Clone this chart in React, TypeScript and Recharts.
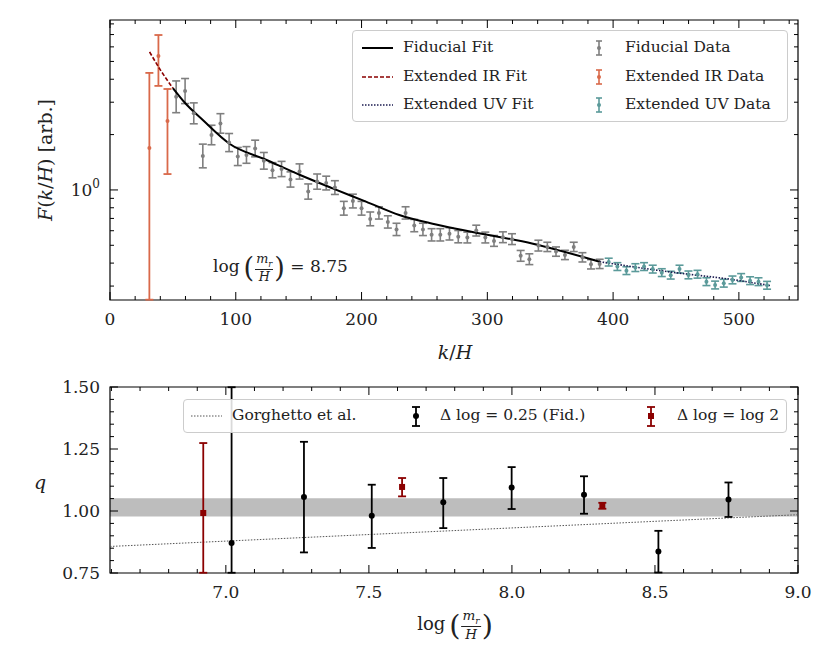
import React from 'react';
import { ComposedChart, Scatter, Line, XAxis, YAxis, ErrorBar, ReferenceArea } from 'recharts';

// ---------- Top panel data ----------
const irX = [31.3, 38.5, 45.7];
const irY = [1.69, 5.35, 2.37];
const irLo = [0.253, 3.68, 1.22];
const irHi = [4.33, 6.96, 3.54];

const fidX = [52.6, 59.7, 66.6, 73.8, 80.7, 87.8, 94.7, 101.6, 108.5, 115.4, 122.3, 129.2, 136.4, 143.5, 150.7, 157.6, 164.7, 171.9, 178.8, 185.9, 193.1, 200, 206.9, 213.8, 220.9, 227.8, 235, 241.9, 248.8, 255.7, 262.6, 269.9, 276.9, 284.1, 291.2, 298.4, 305.3, 312.4, 319.6, 326.5, 333.4, 340.6, 347.7, 354.6, 361.7, 368.7, 375.6, 382.4, 389.3];
const fidY = [3.21, 3.45, 2.61, 1.53, 1.99, 2.3, 1.81, 1.52, 1.55, 1.68, 1.44, 1.28, 1.3, 1.14, 1.26, 0.98, 1.11, 1.09, 1.03, 0.795, 0.87, 0.795, 0.696, 0.75, 0.67, 0.61, 0.75, 0.64, 0.61, 0.57, 0.57, 0.577, 0.557, 0.551, 0.601, 0.551, 0.528, 0.553, 0.54, 0.438, 0.42, 0.498, 0.49, 0.462, 0.443, 0.49, 0.43, 0.394, 0.396];
const fidErr = [1.22, 1.17, 1.14, 1.16, 1.13, 1.13, 1.12, 1.12, 1.11, 1.11, 1.11, 1.1, 1.1, 1.1, 1.1, 1.1, 1.1, 1.09, 1.09, 1.09, 1.09, 1.09, 1.09, 1.08, 1.08, 1.08, 1.08, 1.08, 1.08, 1.08, 1.08, 1.08, 1.08, 1.07, 1.07, 1.07, 1.07, 1.07, 1.07, 1.07, 1.07, 1.07, 1.06, 1.06, 1.06, 1.06, 1.06, 1.06, 1.06];

const uvX = [396.5, 403.4, 410.6, 417.7, 424.6, 431.5, 438.7, 445.8, 452.8, 459.9, 467.1, 474.2, 481.1, 488, 494.9, 501.8, 508.9, 515.6, 522.4];
const uvY = [0.405, 0.383, 0.364, 0.378, 0.383, 0.371, 0.355, 0.344, 0.371, 0.345, 0.348, 0.317, 0.304, 0.311, 0.324, 0.334, 0.321, 0.317, 0.303];
const uvErr = [1.05, 1.05, 1.05, 1.05, 1.05, 1.05, 1.05, 1.05, 1.05, 1.05, 1.05, 1.05, 1.05, 1.05, 1.05, 1.05, 1.05, 1.05, 1.05];

const fitFidX = [50, 59.7, 73.8, 94.7, 124, 150.7, 177, 203.5, 230, 256.5, 283.3, 336.3, 389.3];
const fitFidY = [3.58, 2.97, 2.4, 1.79, 1.46, 1.21, 1.02, 0.864, 0.73, 0.655, 0.6, 0.51, 0.407];
const fitIrX = [31.5, 40, 50];
const fitIrY = [5.63, 4.5, 3.58];
const fitUvX = [389.3, 442.4, 495.5, 524.7];
const fitUvY = [0.407, 0.36, 0.325, 0.302];

const topXMajor = [0, 100, 200, 300, 400, 500];
const topXMinor = [20, 40, 60, 80, 120, 140, 160, 180, 220, 240, 260, 280, 320, 340, 360, 380, 420, 440, 460, 480, 520, 540];
const topYMajor = [1];
const topYMinor = [0.3, 0.4, 0.5, 0.6, 0.7, 0.8, 0.9, 2, 3, 4, 5, 6, 7, 8];

// ---------- Bottom panel data ----------
const qFidX = [7.02, 7.273, 7.51, 7.76, 7.999, 8.252, 8.512, 8.757];
const qFidY = [0.871, 1.056, 0.981, 1.035, 1.095, 1.066, 0.837, 1.046];
const qFidLo = [0.751, 0.833, 0.851, 0.931, 1.008, 0.989, 0.752, 0.976];
const qFidHi = [1.499, 1.279, 1.106, 1.133, 1.177, 1.14, 0.92, 1.115];
const qL2X = [6.921, 7.616, 8.316];
const qL2Y = [0.992, 1.097, 1.021];
const qL2Lo = [0.751, 1.059, 1.009];
const qL2Hi = [1.274, 1.133, 1.033];
const gorX = [6.595, 9.0];
const gorY = [0.857, 0.985];
const band = [0.978, 1.051];
const botXMajor = [7.0, 7.5, 8.0, 8.5, 9.0];
const botXMinor = [6.6, 6.7, 6.8, 6.9, 7.1, 7.2, 7.3, 7.4, 7.6, 7.7, 7.8, 7.9, 8.1, 8.2, 8.3, 8.4, 8.6, 8.7, 8.8, 8.9];
const botYMajor = [0.75, 1.0, 1.25, 1.5];
const botYMinor = [0.8, 0.85, 0.9, 0.95, 1.05, 1.1, 1.15, 1.2, 1.3, 1.35, 1.4, 1.45];

const FONT = '"DejaVu Serif", "Liberation Serif", serif';
const GREY = '#7f7f7f';
const IRC = '#d9694a';
const UVC = '#5b9a9a';
const DRED = '#8b0000';
const NAVY = '#1b1b50';

const pts = (xs: number[], ys: number[]) => xs.map((x, i) => ({ x, y: ys[i] }));
const errPts = (xs: number[], ys: number[], f: number[]) =>
  xs.map((x, i) => ({ x, y: ys[i], e: [ys[i] - ys[i] / f[i], ys[i] * f[i] - ys[i]] }));
const loHiPts = (xs: number[], ys: number[], lo: number[], hi: number[]) =>
  xs.map((x, i) => ({ x, y: ys[i], e: [ys[i] - lo[i], hi[i] - ys[i]] }));

type TickOpts = { horiz: boolean; e1: number; e2: number; majors: number[]; fmt?: (v: number) => any };
const makeTick = (o: TickOpts) => (props: any) => {
  const v = props.payload.value;
  const major = o.majors.some((m) => Math.abs(m - v) < 1e-6);
  const len = major ? 8 : 4;
  if (o.horiz) {
    const c = props.x;
    return (
      <g>
        <line x1={c} x2={c} y1={o.e1} y2={o.e1 - len} stroke="#000" />
        <line x1={c} x2={c} y1={o.e2} y2={o.e2 + len} stroke="#000" />
        {major && <text x={c} y={o.e1 + 25} textAnchor="middle" fontSize={17} fontFamily={FONT} fill="#222">{o.fmt ? o.fmt(v) : v}</text>}
      </g>
    );
  }
  const c = props.y;
  return (
    <g>
      <line y1={c} y2={c} x1={o.e1} x2={o.e1 + len} stroke="#000" />
      <line y1={c} y2={c} x1={o.e2} x2={o.e2 - len} stroke="#000" />
      {major && <text x={o.e1 - 10} y={c + 6} textAnchor="end" fontSize={17} fontFamily={FONT} fill="#222">{o.fmt ? o.fmt(v) : v}</text>}
    </g>
  );
};

const dot = (color: string, r: number, square = false) => (p: any) =>
  square ? <rect x={p.cx - r} y={p.cy - r} width={2 * r} height={2 * r} fill={color} /> : <circle cx={p.cx} cy={p.cy} r={r} fill={color} />;

const Frac = ({ a, b, size = 13 }: { a: any; b: any; size?: number }) => (
  <span style={{ display: 'inline-flex', flexDirection: 'column', alignItems: 'center', verticalAlign: 'middle', fontSize: size, lineHeight: 1.05, margin: '0 1px' }}>
    <span style={{ borderBottom: '1px solid #222', padding: '0 1px' }}>{a}</span>
    <span>{b}</span>
  </span>
);
const LogMr = ({ size }: { size: number }) => (
  <span style={{ whiteSpace: 'nowrap' }}>
    log<span style={{ fontSize: size * 1.6, verticalAlign: 'middle', margin: '0 0 0 4px', fontWeight: 200 }}>(</span>
    <Frac a={<i>m<sub style={{ fontSize: size * 0.5 }}>r</sub></i>} b={<i>H</i>} size={size * 0.75} />
    <span style={{ fontSize: size * 1.6, verticalAlign: 'middle', fontWeight: 200 }}>)</span>
  </span>
);

const T_TOP = 20, T_BOT = 300, LEFT = 110, RIGHT = 798;
const B_TOP = 387, B_BOT = 573;

export default function App() {
  const xdom: [number, number] = [0, 547];
  const ydom: [number, number] = [0.252, 8.4];
  const allTopX = [...topXMajor, ...topXMinor].sort((a, b) => a - b);
  const allTopY = [...topYMinor, ...topYMajor].sort((a, b) => a - b);
  const allBotX = [...botXMajor, ...botXMinor].sort((a, b) => a - b);
  const allBotY = [...botYMajor, ...botYMinor].sort((a, b) => a - b);
  const legText: React.CSSProperties = { position: 'absolute', fontSize: 15.5, whiteSpace: 'nowrap', color: '#222' };

  return (
    <div style={{ position: 'fixed', left: 0, top: 0, width: 835, height: 658, background: '#fff', fontFamily: FONT, color: '#222' }}>
      <div style={{ position: 'absolute', left: 0, top: 0 }}>
        <ComposedChart width={835} height={370} margin={{ top: T_TOP, right: 835 - RIGHT, bottom: 30, left: 0 }}>
          <XAxis xAxisId="b" type="number" dataKey="x" domain={xdom} allowDataOverflow ticks={allTopX} interval={0} height={40} axisLine={false} tickLine={false}
            tick={makeTick({ horiz: true, e1: T_BOT, e2: T_TOP, majors: topXMajor })} />
          <YAxis yAxisId="l" type="number" scale="log" dataKey="y" domain={ydom} allowDataOverflow ticks={allTopY} interval={0} width={LEFT} axisLine={false} tickLine={false}
            tick={makeTick({ horiz: false, e1: LEFT, e2: RIGHT, majors: topYMajor, fmt: () => <>10<tspan dy={-8} fontSize={12}>0</tspan></> })} />
          <ReferenceArea xAxisId="b" yAxisId="l" x1={0} x2={547} y1={0.252} y2={8.4} fill="none" stroke="#000" strokeWidth={1.2} ifOverflow="visible" />
          <Scatter xAxisId="b" yAxisId="l" data={loHiPts(irX, irY, irLo, irHi)} shape={dot(IRC, 2)} isAnimationActive={false}>
            <ErrorBar dataKey="e" direction="y" stroke={IRC} strokeWidth={1.8} width={4} isAnimationActive={false} />
          </Scatter>
          <Scatter xAxisId="b" yAxisId="l" data={errPts(fidX, fidY, fidErr)} shape={dot(GREY, 2)} isAnimationActive={false}>
            <ErrorBar dataKey="e" direction="y" stroke={GREY} strokeWidth={1.6} width={4} isAnimationActive={false} />
          </Scatter>
          <Scatter xAxisId="b" yAxisId="l" data={errPts(uvX, uvY, uvErr)} shape={dot(UVC, 2)} isAnimationActive={false}>
            <ErrorBar dataKey="e" direction="y" stroke={UVC} strokeWidth={1.6} width={4} isAnimationActive={false} />
          </Scatter>
          <Line xAxisId="b" yAxisId="l" data={pts(fitFidX, fitFidY)} dataKey="y" type="monotone" stroke="#000" strokeWidth={2} dot={false} isAnimationActive={false} />
          <Line xAxisId="b" yAxisId="l" data={pts(fitIrX, fitIrY)} dataKey="y" type="monotone" stroke={DRED} strokeWidth={1.6} strokeDasharray="4 2" dot={false} isAnimationActive={false} />
          <Line xAxisId="b" yAxisId="l" data={pts(fitUvX, fitUvY)} dataKey="y" type="monotone" stroke={NAVY} strokeWidth={1.6} strokeDasharray="1.5 1.5" dot={false} isAnimationActive={false} />
        </ComposedChart>
      </div>

      <div style={{ position: 'absolute', left: 0, top: 360 }}>
        <ComposedChart width={835} height={300} margin={{ top: B_TOP - 360, right: 835 - RIGHT, bottom: 300 - (B_BOT - 360) - 40, left: 0 }}>
          <XAxis xAxisId="b" type="number" dataKey="x" domain={[6.595, 9.0]} allowDataOverflow ticks={allBotX} interval={0} height={40} axisLine={false} tickLine={false}
            tick={makeTick({ horiz: true, e1: B_BOT - 360, e2: B_TOP - 360, majors: botXMajor, fmt: (v) => v.toFixed(1) })} />
          <YAxis yAxisId="l" type="number" dataKey="y" domain={[0.75, 1.5]} allowDataOverflow ticks={allBotY} interval={0} width={LEFT} axisLine={false} tickLine={false}
            tick={makeTick({ horiz: false, e1: LEFT, e2: RIGHT, majors: botYMajor, fmt: (v) => v.toFixed(2) })} />
          <ReferenceArea xAxisId="b" yAxisId="l" x1={6.595} x2={9.0} y1={band[0]} y2={band[1]} fill="#bdbdbd" fillOpacity={1} stroke="none" />
          <Line xAxisId="b" yAxisId="l" data={pts(gorX, gorY)} dataKey="y" type="linear" stroke="#555" strokeWidth={1} strokeDasharray="1.5 1.5" dot={false} isAnimationActive={false} />
          <Scatter xAxisId="b" yAxisId="l" data={loHiPts(qL2X, qL2Y, qL2Lo, qL2Hi)} shape={dot(DRED, 3, true)} isAnimationActive={false}>
            <ErrorBar dataKey="e" direction="y" stroke={DRED} strokeWidth={1.8} width={4} isAnimationActive={false} />
          </Scatter>
          <Scatter xAxisId="b" yAxisId="l" data={loHiPts(qFidX, qFidY, qFidLo, qFidHi)} shape={dot('#000', 3)} isAnimationActive={false}>
            <ErrorBar dataKey="e" direction="y" stroke="#000" strokeWidth={1.8} width={4} isAnimationActive={false} />
          </Scatter>
          <ReferenceArea xAxisId="b" yAxisId="l" x1={6.595} x2={9.0} y1={0.75} y2={1.5} fill="none" stroke="#000" strokeWidth={1.2} ifOverflow="visible" />
        </ComposedChart>
      </div>

      {/* top legend */}
      <div style={{ position: 'absolute', left: 352, top: 30, width: 436, height: 92, background: 'rgba(255,255,255,0.85)', border: '1px solid #ccc', borderRadius: 4, boxSizing: 'border-box' }}>
        <svg style={{ position: 'absolute', left: 0, top: 0 }} width={436} height={92}>
          <line x1={9} x2={40} y1={17} y2={17} stroke="#000" strokeWidth={2} />
          <line x1={9} x2={40} y1={46} y2={46} stroke={DRED} strokeWidth={1.6} strokeDasharray="4 2" />
          <line x1={9} x2={40} y1={74} y2={74} stroke={NAVY} strokeWidth={1.6} strokeDasharray="1.5 1.5" />
          {[[17, GREY], [46, IRC], [74, UVC]].map(([yy, c]: any) => (
            <g key={yy}>
              <line x1={246} x2={246} y1={yy - 7} y2={yy + 7} stroke={c} strokeWidth={1.6} />
              <line x1={243} x2={249} y1={yy - 7} y2={yy - 7} stroke={c} strokeWidth={1.6} />
              <line x1={243} x2={249} y1={yy + 7} y2={yy + 7} stroke={c} strokeWidth={1.6} />
              <circle cx={246} cy={yy} r={2} fill={c} />
            </g>
          ))}
        </svg>
        <div style={{ ...legText, left: 50, top: 7 }}>Fiducial Fit</div>
        <div style={{ ...legText, left: 50, top: 36 }}>Extended IR Fit</div>
        <div style={{ ...legText, left: 50, top: 64 }}>Extended UV Fit</div>
        <div style={{ ...legText, left: 272, top: 7 }}>Fiducial Data</div>
        <div style={{ ...legText, left: 272, top: 36 }}>Extended IR Data</div>
        <div style={{ ...legText, left: 272, top: 64 }}>Extended UV Data</div>
      </div>

      {/* bottom legend */}
      <div style={{ position: 'absolute', left: 183, top: 399, width: 604, height: 34, background: 'rgba(255,255,255,0.85)', border: '1px solid #ccc', borderRadius: 4, boxSizing: 'border-box' }}>
        <svg style={{ position: 'absolute', left: 0, top: 0 }} width={604} height={34}>
          <line x1={7} x2={38} y1={16} y2={16} stroke="#555" strokeWidth={1} strokeDasharray="1.5 1.5" />
          <line x1={232} x2={232} y1={7} y2={26} stroke="#000" strokeWidth={1.8} />
          <line x1={228} x2={236} y1={7} y2={7} stroke="#000" strokeWidth={1.8} />
          <line x1={228} x2={236} y1={26} y2={26} stroke="#000" strokeWidth={1.8} />
          <circle cx={232} cy={16} r={3} fill="#000" />
          <line x1={467} x2={467} y1={7} y2={26} stroke={DRED} strokeWidth={1.8} />
          <line x1={463} x2={471} y1={7} y2={7} stroke={DRED} strokeWidth={1.8} />
          <line x1={463} x2={471} y1={26} y2={26} stroke={DRED} strokeWidth={1.8} />
          <rect x={464} y={13} width={6} height={6} fill={DRED} />
        </svg>
        <div style={{ ...legText, left: 48, top: 6 }}>Gorghetto et al.</div>
        <div style={{ ...legText, left: 256, top: 6 }}>Δ log = 0.25 (Fid.)</div>
        <div style={{ ...legText, left: 493, top: 6 }}>Δ log = log 2</div>
      </div>

      {/* annotation */}
      <div style={{ position: 'absolute', left: 213, top: 252, fontSize: 17, whiteSpace: 'nowrap' }}>
        <LogMr size={17} /> = 8.75
      </div>

      {/* axis labels */}
      <div style={{ position: 'absolute', left: 45, top: 160, transform: 'translate(-50%,-50%) rotate(-90deg)', fontSize: 19, whiteSpace: 'nowrap' }}>
        <i>F</i>(<i>k</i>/<i>H</i>) [arb.]
      </div>
      <div style={{ position: 'absolute', left: 455, top: 352, transform: 'translate(-50%,-50%)', fontSize: 19, whiteSpace: 'nowrap' }}>
        <i>k</i>/<i>H</i>
      </div>
      <div style={{ position: 'absolute', left: 40, top: 482, transform: 'translate(-50%,-50%)', fontSize: 19 }}>
        <i>q</i>
      </div>
      <div style={{ position: 'absolute', left: 455, top: 625, transform: 'translate(-50%,-50%)', fontSize: 18 }}>
        <LogMr size={18} />
      </div>
    </div>
  );
}
